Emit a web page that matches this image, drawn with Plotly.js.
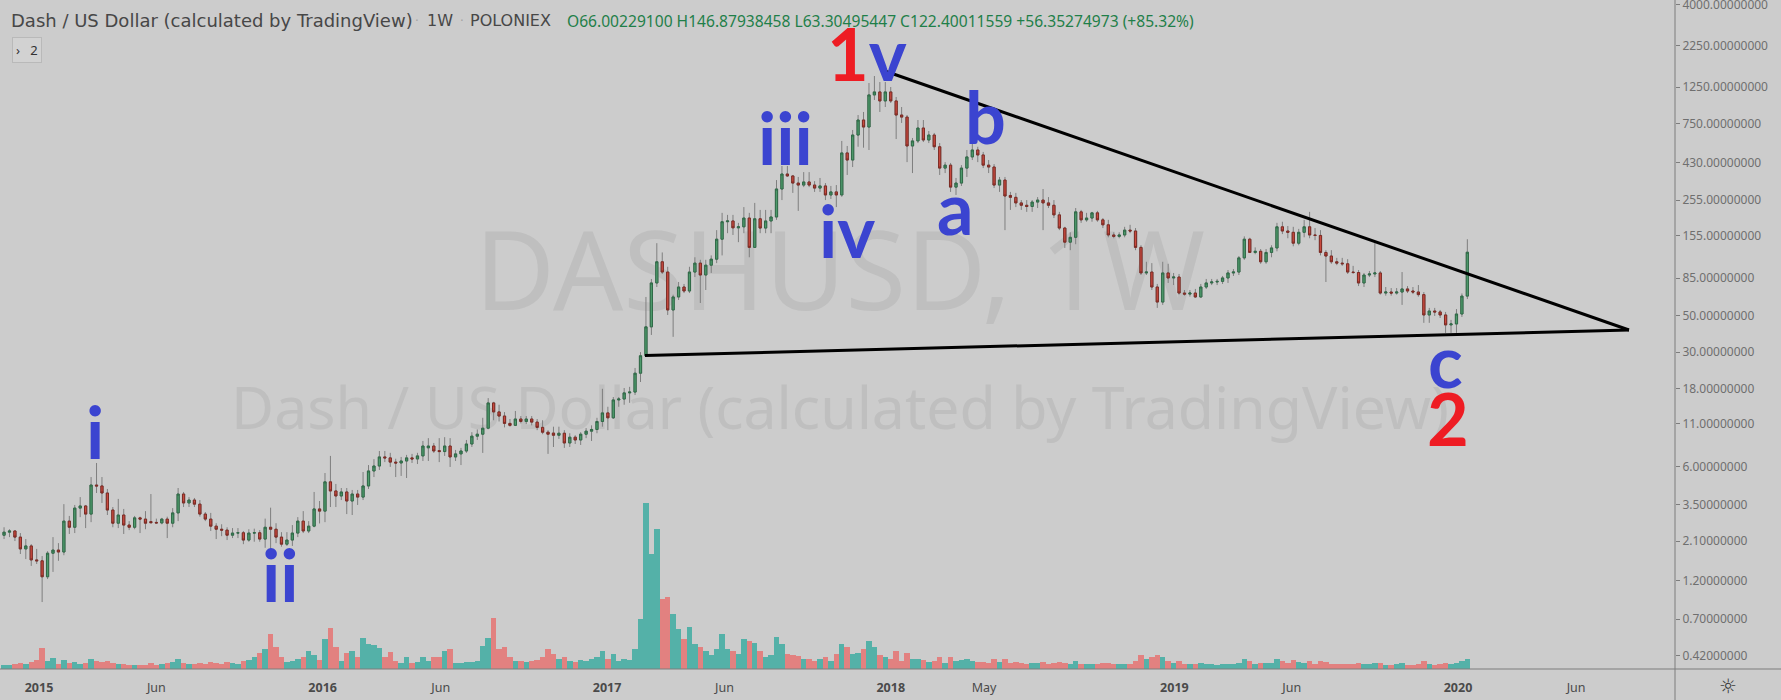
<!DOCTYPE html>
<html><head><meta charset="utf-8">
<script src="https://cdn.plot.ly/plotly-3.0.1.min.js"></script>
<style>html,body{margin:0;padding:0;background:#cccccc;}#chart{width:1781px;height:700px;}</style>
</head><body><div id="chart"></div>
<script>
// Weekly DASH/USD candles, first bar week of 2014-11-17, one bar per week
const firstWeek = '2014-11-17';
const barCount = 270;

const open = [
2.28,2.38,2.42,2.22,1.88,1.96,1.61,1.59,1.27,1.77,
1.85,1.80,2.78,2.55,3.34,3.44,3.07,4.62,4.56,4.13,
3.25,2.70,3.03,2.63,2.55,2.91,2.86,2.76,2.73,2.71,
2.86,2.70,3.12,4.07,3.59,3.74,3.53,3.07,2.86,2.59,
2.48,2.45,2.28,2.35,2.36,2.13,2.35,2.36,2.16,2.55,
2.48,2.22,2.01,2.13,2.35,2.78,2.42,2.59,3.30,3.20,
4.83,4.25,3.96,4.19,3.69,4.07,3.90,4.56,5.63,6.04,
6.86,6.77,6.38,6.30,6.48,6.77,6.67,6.96,7.80,8.00,
7.50,7.40,8.00,6.86,7.16,7.46,8.23,9.19,9.45,10.28,
14.67,12.93,12.2,11.0,10.7,11.7,11.3,11.7,11.2,10.4,
9.72,9.60,9.31,9.58,8.35,9.06,8.71,9.45,9.86,10.1,
11.3,12.75,11.9,15.3,15.5,16.9,17.1,22.3,28.5,42.8,
79.4,107,92.6,54.3,65.2,75.0,70.9,92.6,105,88.8,
102,111,147,188,190,172.5,175,198,131,196,
172,190,201,298,368,358,324,315,329,315,
302,311,274,286,274,495,448,637,787,713,
1120,1168,1029,1168,1029,844,820,546,586,703,
594,637,540,400,417,306,324,400,468,516,
481,417,406,315,338,272,265,245,237,233,
248,255,245,237,207,172,141,151,216,193,
198,213,193,180,156,153,156,167,165,131,
91.4,92.6,75.0,60.7,91.4,85.2,86.3,68.9,67.9,68.9,
65.2,75.0,79.4,80.5,81.2,85.2,91.4,92.6,113,147,
122,124,107,122,130,175,165,162,139,162,
175,156,155,122,116,107,105,104,92.6,92.0,
79.4,88.8,90.1,91.4,68.9,69.9,68.9,69.9,73.0,70.9,
69.9,67.4,50.6,53.5,52.8,50.6,44.0,44.6,51.3,66.00229100];

const high = [
2.55,2.48,2.43,2.35,2.16,2.01,1.88,1.70,1.82,2.22,
2.04,3.53,2.99,3.49,3.90,3.49,5.17,6.30,5.17,4.37,
3.39,3.80,3.30,2.78,2.99,2.96,3.20,4.07,2.88,2.91,
2.96,3.34,4.43,4.19,3.90,3.85,3.74,3.16,3.12,2.70,
2.66,2.55,2.52,2.52,2.42,2.48,2.50,2.45,2.88,3.36,
2.70,2.38,2.38,2.63,2.94,3.20,2.78,4.19,3.69,5.47,
6.96,4.69,4.43,4.43,4.31,4.31,5.55,6.12,6.65,7.46,
7.46,7.27,6.69,6.86,7.06,7.16,7.27,8.59,8.94,8.35,
8.94,9.06,8.94,7.57,7.79,8.71,9.72,10.1,11.9,15.7,
14.9,14.3,12.9,11.7,13.1,12.2,12.2,12.2,11.7,11.5,
10.0,10.5,10.5,10.0,9.58,9.31,9.72,10.3,10.7,11.9,
17.9,13.9,15.95,15.95,18.1,18.4,24.0,30.0,65.2,84.0,
139,122,99.7,67.3,80.5,78.3,99.7,114,110,110,
117,167,213,207,207,185,231,213,245,222,
222,222,338,412,412,363,353,378,378,333,
348,324,311,315,586,546,684,844,881,1325,
1462,1343,1343,1252,1088,945,844,611,787,787,
674,656,569,435,430,348,417,516,569,540,
502,448,423,353,353,286,282,255,255,255,
266,298,266,255,216,175,162,228,222,213,
216,219,198,193,162,162,175,180,172,135,
107,105,78.3,107,104,91.4,90.1,71.9,71.9,73.0,
78.3,84.0,84.0,84.0,87.6,95.3,96.6,116,153,150,
131,128,128,135,185,188,177,175,170,193,
216,172,167,126,126,113,113,111,101,95.3,
91.4,94.0,139,94.0,75.0,73.9,73.9,92.6,76.0,75.0,
77.1,69.9,55.9,55.9,54.3,52.8,47.2,55.0,68.5,146.87938458];

const low = [
2.16,2.22,2.10,1.75,1.63,1.48,1.52,0.89,1.23,1.36,
1.59,1.72,2.32,2.35,2.94,2.52,2.74,4.13,3.59,3.03,
2.55,2.52,2.32,2.45,2.48,2.35,2.48,2.70,2.69,2.66,
2.19,2.55,2.78,3.39,3.39,3.39,2.96,2.78,2.42,2.16,
2.25,2.13,2.19,2.19,2.01,2.08,2.08,2.08,1.91,1.88,
2.04,1.94,1.96,1.96,2.22,2.35,2.35,2.55,2.69,2.74,
3.39,3.39,3.74,3.07,3.03,3.49,3.74,4.37,5.17,5.71,
6.38,5.96,5.17,5.25,5.10,6.30,6.21,6.48,6.48,7.26,
6.38,6.96,5.96,6.48,6.12,7.26,7.89,8.71,7.26,10.13,
11.5,11.3,10.4,10.5,10.6,11.0,10.9,10.7,10.0,9.45,
7.16,7.89,8.84,7.79,7.89,8.23,8.12,8.94,8.59,9.58,
10.5,10.0,11.7,13.9,14.3,14.7,16.4,19.7,28.3,38.2,
75.0,90.1,50.6,37.2,62.5,68.9,68.9,86.3,59.9,71.9,
91.4,105,117,160,156,141,160,114,130,160,
160,160,193,255,353,282,219,306,306,286,
286,255,259,231,267,363,406,540,533,516,
1043,881,945,1000,602,755,435,373,569,577,
569,516,363,373,286,274,311,353,448,435,
400,373,302,286,167,222,231,222,216,216,
228,167,228,198,167,130,126,137,185,188,
188,188,172,151,149,149,151,160,126,88.8,
88.8,71.9,55.9,58.3,79.4,77.1,67.4,66.4,65.5,64.3,
64.3,73.0,77.1,77.1,78.3,79.4,87.6,88.8,110,121,
119,104,104,114,124,158,149,133,135,151,
149,145,117,80.5,104,102,101,90.1,90.1,76.0,
75.0,86.3,86.3,67.4,66.4,66.4,67.4,58.3,68.9,67.9,
65.5,45.3,45.3,49.9,48.5,39.3,39.3,39.3,49.2,63.30495447];

const close = [
2.38,2.42,2.22,1.88,1.96,1.61,1.59,1.27,1.77,1.85,
1.80,2.78,2.55,3.34,3.44,3.07,4.62,4.56,4.13,3.25,
2.70,3.03,2.63,2.55,2.91,2.86,2.70,2.72,2.71,2.86,
2.70,3.12,4.07,3.59,3.74,3.53,3.07,2.86,2.59,2.48,
2.45,2.28,2.35,2.36,2.13,2.35,2.36,2.16,2.55,2.48,
2.22,2.01,2.13,2.35,2.78,2.42,2.59,3.30,3.20,4.83,
4.25,3.96,4.19,3.69,4.07,3.90,4.56,5.63,6.04,6.86,
6.77,6.38,6.30,6.48,6.77,6.67,6.96,8.00,8.00,7.46,
7.40,8.00,6.86,7.16,7.46,8.23,9.19,9.45,10.28,14.67,
12.93,12.2,11.0,10.7,11.7,11.3,11.7,11.2,10.4,9.72,
9.45,9.31,9.58,8.35,9.06,8.71,9.45,9.86,10.1,11.3,
12.75,11.9,15.3,15.5,16.9,17.1,22.3,28.5,42.8,79.4,
107,92.6,54.3,65.2,75.0,70.9,92.6,105,88.8,102,
111,147,188,190,172.5,175,198,131,196,172,
190,201,298,368,358,324,315,329,315,302,
311,274,286,274,495,448,637,787,713,1120,
1168,1029,1168,1029,844,820,546,586,703,594,
637,540,400,417,306,324,400,468,516,481,
417,406,315,338,270,265,245,237,233,248,
255,245,237,207,172,141,151,216,193,198,
213,193,180,156,153,156,167,165,131,91.4,
92.6,75.0,60.7,91.4,85.2,86.3,68.9,67.9,68.9,65.2,
75.0,79.4,80.5,81.2,85.2,91.4,92.6,113,147,122,
124,107,122,130,175,165,162,139,162,175,
156,155,122,116,107,105,104,92.6,92.0,79.4,
88.8,90.1,91.4,68.9,69.9,68.9,69.9,73.0,70.9,69.9,
67.4,50.6,53.5,52.8,50.6,44.0,44.6,51.3,66.0,122.40011559];

// relative weekly volume (arbitrary units)
const volume = [
4,4,5,6,5,7,9,21,8,11,
5,9,6,7,5,6,10,8,7,8,
6,5,5,4,4,4,4,6,4,5,
6,7,10,6,5,5,6,5,7,6,
5,7,6,5,8,9,12,16,20,35,
22,12,7,8,10,12,18,14,9,30,
41,22,8,16,18,12,31,25,24,21,
12,17,8,6,12,6,7,12,8,12,
12,18,20,6,6,7,7,8,23,31,
51,20,22,12,8,8,7,8,9,12,
20,15,10,12,8,7,9,8,10,12,
18,10,15,8,10,9,20,50,166,115,
140,70,72,55,40,30,42,25,22,18,
14,20,35,20,18,15,30,28,26,18,
12,14,32,25,15,14,13,10,10,8,
10,12,8,15,25,22,15,16,20,28,
22,14,12,10,18,8,16,10,10,9,
7,8,12,6,12,8,9,10,8,7,
7,6,10,7,10,6,7,6,5,6,
6,7,5,6,7,6,5,8,5,5,
5,5,6,6,5,5,5,5,8,14,
10,12,14,12,8,6,8,5,5,5,
6,5,5,4,5,5,5,6,10,8,
5,6,6,6,10,8,6,9,7,6,
8,5,8,7,5,5,5,5,5,6,
5,5,6,6,4,4,5,6,4,4,
5,8,5,4,5,6,5,6,8,10];

const priceTicks = [4000,2250,1250,750,430,255,155,85,50,30,18,11,6,3.5,2.1,1.2,0.7,0.42];
const timeTickDates = ['2015-01-01','2015-06-01','2016-01-01','2016-06-01','2017-01-01','2017-06-01','2018-01-01','2018-05-01','2019-01-01','2019-06-01','2020-01-01','2020-06-01'];
const timeTickLabels = ['2015','Jun','2016','Jun','2017','Jun','2018','May','2019','Jun','2020','Jun'];

const symbolTitle = 'Dash / US Dollar (calculated by TradingView)';
const interval = '1W';
const exchange = 'POLONIEX';
const ohlcText = 'O66.00229100 H146.87938458 L63.30495447 C122.40011559 +56.35274973 (+85.32%)';

// ---- build ----
const dates = [];
{
  const d0 = new Date(firstWeek + 'T00:00:00Z');
  for (let i = 0; i < barCount; i++) {
    const d = new Date(d0.getTime() + i * 7 * 86400000);
    dates.push(d.toISOString().slice(0, 10));
  }
}
const bodyHi = open.map((o, i) => Math.max(o, close[i]));
const bodyLo = open.map((o, i) => Math.min(o, close[i]));
const volColors = close.map((c, i) => c >= open[i] ? 'rgba(38,166,154,0.72)' : 'rgba(239,83,80,0.62)');

const W = 1781, H = 700, PL = 0, PR = 106, PT = 0, PB = 31;
const PW = W - PL - PR, PH = H - PT - PB;
const px = x => (x - PL) / PW;
const py = y => 1 - (y - PT) / PH;

const wickTrace = {
  type: 'candlestick', x: dates, open: open, high: high, low: low, close: close,
  increasing: {line: {color: '#7f7f7f', width: 1}, fillcolor: 'rgba(0,0,0,0)'},
  decreasing: {line: {color: '#7f7f7f', width: 1}, fillcolor: 'rgba(0,0,0,0)'},
  whiskerwidth: 0, hoverinfo: 'skip', showlegend: false
};
const bodyTrace = {
  type: 'candlestick', x: dates, open: open, high: bodyHi, low: bodyLo, close: close,
  increasing: {line: {color: '#2f6a47', width: 1}, fillcolor: '#4f9a6c'},
  decreasing: {line: {color: '#7c2b24', width: 1}, fillcolor: '#c94a3f'},
  whiskerwidth: 0, hoverinfo: 'skip', showlegend: false
};
const volTrace = {
  type: 'bar', x: dates, y: volume, yaxis: 'y2',
  marker: {color: volColors, line: {width: 0}},
  hoverinfo: 'skip', showlegend: false
};

const blue = '#3b44d0', red = '#ee1c23';
const waveFont = (c) => ({family: 'Lato, "Open Sans", sans-serif', size: 72, color: c, weight: 700});
function wave(text, x, y, color) {
  return {text: text, xref: 'paper', yref: 'paper', x: px(x), y: py(y), xanchor: 'center', yanchor: 'middle',
          showarrow: false, font: waveFont(color)};
}
function headerText(text, x, font) {
  return {text: text, xref: 'paper', yref: 'paper', x: px(x), y: py(21), xanchor: 'left', yanchor: 'middle',
          showarrow: false, borderpad: 0, font: font};
}
const hdrFont = {family: '"DejaVu Sans", sans-serif', size: 16, color: '#474747'};
const dotFont = {family: '"DejaVu Sans", sans-serif', size: 12, color: '#a2a2a2'};

const annotations = [
  headerText(symbolTitle, 10, {family: '"DejaVu Sans", sans-serif', size: 18, color: '#474747'}),
  headerText('·', 414, dotFont),
  headerText(interval, 426, hdrFont),
  headerText('·', 459, dotFont),
  headerText(exchange, 469, hdrFont),
  headerText(ohlcText, 566, {family: '"Noto Sans", sans-serif', size: 15.6, color: '#1f7f49'}),
  {text: '›&nbsp;&nbsp;&nbsp;2', xref: 'paper', yref: 'paper', x: px(12), y: py(50), xanchor: 'left', yanchor: 'middle', showarrow: false,
   font: {family: '"Noto Sans", sans-serif', size: 13, color: '#333333'}, bordercolor: '#b9b9b9', borderwidth: 1, borderpad: 3, bgcolor: '#d2d2d2'},
  wave('i', 95, 431, blue),
  wave('ii', 280, 574, blue),
  wave('iii', 785, 137, blue),
  wave('iv', 847, 230, blue),
  wave('<span style="color:' + red + '">1</span>v', 867, 53, blue),
  wave('b', 986, 116, blue),
  wave('a', 955, 207, blue),
  wave('c', 1445, 360, blue),
  wave('2', 1448, 418, red),
  {text: '☼', xref: 'paper', yref: 'paper', x: px(1728), y: py(686), xanchor: 'center', yanchor: 'middle', showarrow: false,
   font: {family: '"DejaVu Sans", sans-serif', size: 20, color: '#3a3a3a'}}
];

const shapes = [
  {type: 'rect', xref: 'paper', yref: 'paper', x0: px(300), x1: px(1380), y0: py(330), y1: py(220), layer: 'below',
   line: {width: 0}, fillcolor: 'rgba(0,0,0,0)',
   label: {text: 'DASHUSD, 1W', textposition: 'middle center', font: {family: '"Noto Sans", sans-serif', size: 110, color: '#bfbfbf'}}},
  {type: 'rect', xref: 'paper', yref: 'paper', x0: px(150), x1: px(1530), y0: py(450), y1: py(370), layer: 'below',
   line: {width: 0}, fillcolor: 'rgba(0,0,0,0)',
   label: {text: symbolTitle, textposition: 'middle center', font: {family: '"Noto Sans", sans-serif', size: 59, color: '#bfbfbf'}}},
  {type: 'line', xref: 'paper', yref: 'paper', x0: px(882), y0: py(70), x1: px(1629), y1: py(330), line: {color: '#000000', width: 3}},
  {type: 'line', xref: 'paper', yref: 'paper', x0: px(645), y0: py(355.5), x1: px(1629), y1: py(330), line: {color: '#000000', width: 3}},
  {type: 'line', xref: 'paper', yref: 'paper', x0: px(1675), x1: px(1675), y0: py(700), y1: py(0), line: {color: '#7d7d7d', width: 1}},
  {type: 'line', xref: 'paper', yref: 'paper', x0: px(0), x1: px(1781), y0: py(669), y1: py(669), line: {color: '#7d7d7d', width: 1}}
];

const layout = {
  width: W, height: H,
  margin: {l: PL, r: PR, t: PT, b: PB, pad: 0},
  paper_bgcolor: '#cccccc', plot_bgcolor: '#cccccc',
  showlegend: false, bargap: 0, boxgap: 0.42, boxmode: 'overlay',
  font: {family: '"Noto Sans", sans-serif', color: '#555555'},
  xaxis: {
    type: 'date', range: ['2014-11-11 19:00', '2020-10-06 05:00'],
    rangeslider: {visible: false}, showgrid: false, zeroline: false, showline: false,
    tickmode: 'array', tickvals: timeTickDates,
    ticktext: timeTickLabels.map(t => /^\d{4}$/.test(t) ? '<b>' + t + '</b>' : t),
    ticks: '', ticklabelstandoff: 9,
    tickfont: {size: 12.5, color: '#4a4a4a', family: '"Noto Sans", sans-serif'}
  },
  yaxis: {
    type: 'log', side: 'right', range: [Math.log10(0.3468), Math.log10(4261)],
    showgrid: false, zeroline: false, showline: false, ticklabeloverflow: 'allow',
    tickmode: 'array', tickvals: priceTicks, ticktext: priceTicks.map(v => v.toFixed(8)),
    ticks: 'outside', ticklen: 4, tickcolor: '#7d7d7d', tickwidth: 1,
    tickfont: {size: 12, color: '#6f6f6f', family: '"Noto Sans", sans-serif'}
  },
  yaxis2: {overlaying: 'y', range: [0, 669], visible: false, fixedrange: true},
  annotations: annotations,
  shapes: shapes
};

Plotly.newPlot('chart', [volTrace, wickTrace, bodyTrace], layout, {displayModeBar: false, staticPlot: true});
</script>
</body></html>
